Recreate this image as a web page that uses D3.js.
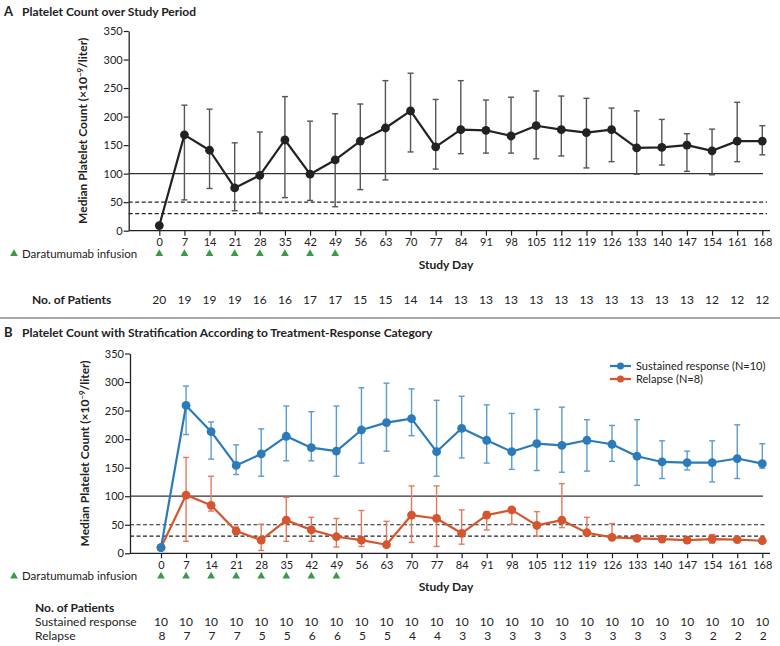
<!DOCTYPE html>
<html><head><meta charset="utf-8">
<script src="https://cdn.jsdelivr.net/npm/d3@7"></script>
<style>
body{margin:0;background:#fff;}
svg text{font-family:"Lato",sans-serif;fill:#222;}
</style></head>
<body><svg id="c" width="780" height="646"></svg>
<script>
const days = [0,7,14,21,28,35,42,49,56,63,70,77,84,91,98,105,112,119,126,133,140,147,154,161,168];
const infusionDays = [0,7,14,21,28,35,42,49];
const yTicks = [0,50,100,150,200,250,300,350];

// Panel A: all patients
const medianAll = [9,168,141,75,97,159,99,124,157,180,210,147,177,176,166,184,177,172,177,145,146,150,140,157,157];
const upperAll  = [null,220,213,154,173,235,192,205,222,263,276,230,263,229,234,245,236,232,215,210,195,170,178,225,184];
const lowerAll  = [null,54,74,35,31,58,53,42,72,89,138,108,135,136,136,126,131,110,121,99,115,104,98,121,133];
const patientsAll = [20,19,19,19,16,16,17,17,15,15,14,14,13,13,13,13,13,13,13,13,13,13,12,12,12];

// Panel B: sustained response
const medianSust = [10,259,213,154,174,205,185,179,216,229,236,178,219,198,178,192,189,198,191,170,160,159,159,166,157];
const upperSust  = [null,293,230,190,218,258,248,258,290,298,288,268,275,260,245,252,256,234,224,234,197,179,197,225,192];
const lowerSust  = [null,208,165,138,135,162,162,135,158,179,206,135,167,158,147,145,142,144,161,119,131,146,125,131,149];
const patientsSust = [10,10,10,10,10,10,10,10,10,10,10,10,10,10,10,10,10,10,10,10,10,10,10,10,10];

// Panel B: relapse
const medianRel = [10,102,84,39,23,58,41,29,23,15,67,61,35,67,76,49,58,36,28,26,25,23,25,24,22];
const upperRel  = [null,168,135,46,51,98,63,61,75,56,118,118,76,73,78,73,122,63,52,null,null,null,33,null,null];
const lowerRel  = [null,21,74,35,5,21,21,11,12,12,19,12,16,41,51,30,45,33,26,null,null,null,18,null,null];
const patientsRel = [8,7,7,7,5,5,6,6,5,5,4,4,3,3,3,3,3,3,3,3,3,3,2,2,2];

const seriesNames = ["Sustained response (N=10)","Relapse (N=8)"];
const BLUE="#2b7bba", BLUE_L="#5b9bd0", RED="#d4552e", RED_L="#e47a5c", GREEN="#3a9a48";

const svg = d3.select("#c");

function panel(cfg){
  const g = svg.append("g");
  const x = d3.scaleLinear().domain([0,168]).range(cfg.xr);
  const y = d3.scaleLinear().domain([0,350]).range(cfg.yr);
  const ya = g.append("g").attr("transform",`translate(${cfg.ax},0)`)
    .call(d3.axisLeft(y).tickValues(yTicks).tickSize(5).tickSizeOuter(0));
  ya.select(".domain").attr("stroke","#222").attr("stroke-width",1.3);
  ya.selectAll(".tick line").attr("stroke","#222").attr("stroke-width",1.2);
  ya.selectAll(".tick text").attr("font-size",11).attr("x",-6).attr("fill","#222");
  const xa = g.append("g").attr("transform",`translate(0,${cfg.yr[0]})`)
    .call(d3.axisBottom(x).tickValues(days).tickSize(5).tickSizeOuter(0));
  xa.select(".domain").remove();
  xa.append("line").attr("x1",cfg.ax).attr("x2",770).attr("y1",0).attr("y2",0).attr("stroke","#222").attr("stroke-width",1.3);
  xa.selectAll(".tick line").attr("stroke","#222").attr("stroke-width",1.2);
  xa.selectAll(".tick text").attr("font-size",11).attr("y",8).attr("fill","#222");
  g.append("line").attr("x1",cfg.ax).attr("x2",763).attr("y1",y(100)).attr("y2",y(100)).attr("stroke","#333").attr("stroke-width",1.2);
  [50,30].forEach(v=>g.append("line").attr("x1",cfg.ax).attr("x2",767).attr("y1",y(v)).attr("y2",y(v))
    .attr("stroke","#222").attr("stroke-width",1.2).attr("stroke-dasharray","4,2.5"));
  const lab = g.append("text").attr("transform",`translate(${cfg.lx},${(cfg.yr[0]+cfg.yr[1])/2}) rotate(-90)`)
    .attr("text-anchor","middle").attr("font-size",12).attr("font-weight","bold");
  lab.append("tspan").text("Median Platelet Count (×10");
  lab.append("tspan").text("−9").attr("font-size",8).attr("dy",-4);
  lab.append("tspan").text("/liter)").attr("dy",4);
  g.append("text").attr("x",446).attr("y",cfg.yr[0]+38).attr("text-anchor","middle").attr("font-size",12).attr("font-weight","bold").text("Study Day");
  const iy = cfg.yr[0]+27;
  const tri = d3.symbol().type(d3.symbolTriangle).size(26);
  g.append("path").attr("d",tri).attr("transform",`translate(14,${iy-4})`).attr("fill",GREEN);
  g.append("text").attr("x",22).attr("y",iy).attr("font-size",11.5).text("Daratumumab infusion");
  g.selectAll(".inf").data(infusionDays).enter().append("path").attr("d",tri)
    .attr("transform",d=>`translate(${x(d)},${iy-4})`).attr("fill",GREEN);
  return {g,x,y};
}

function drawSeries(p, med, up, lo, lineColor, barColor, r){
  const {g,x,y} = p;
  const eb = g.append("g").attr("stroke",barColor).attr("stroke-width",1.4).attr("fill","none");
  days.forEach((d,i)=>{
    if(up[i]==null) return;
    const cx=x(d);
    eb.append("line").attr("x1",cx).attr("x2",cx).attr("y1",y(up[i])).attr("y2",y(lo[i]));
    eb.append("line").attr("x1",cx-3).attr("x2",cx+3).attr("y1",y(up[i])).attr("y2",y(up[i]));
    eb.append("line").attr("x1",cx-3).attr("x2",cx+3).attr("y1",y(lo[i])).attr("y2",y(lo[i]));
  });
  g.append("path").datum(med).attr("fill","none").attr("stroke",lineColor).attr("stroke-width",2.2)
    .attr("stroke-linejoin","round")
    .attr("d",d3.line().x((v,i)=>x(days[i])).y(v=>y(v)));
  g.selectAll(null).data(med).enter().append("circle").attr("cx",(v,i)=>x(days[i])).attr("cy",v=>y(v))
    .attr("r",r).attr("fill",lineColor);
}

function title(yy, letter, txt){
  svg.append("text").attr("x",4).attr("y",yy).attr("font-size",13).attr("font-weight","bold").text(letter);
  svg.append("text").attr("x",22).attr("y",yy).attr("font-size",12).attr("font-weight","bold").text(txt);
}
title(16,"A","Platelet Count over Study Period");
title(337,"B","Platelet Count with Stratification According to Treatment-Response Category");

const pA = panel({xr:[159.3,762.3], yr:[230.7,31], ax:128.7, lx:87});
drawSeries(pA, medianAll, upperAll, lowerAll, "#222", "#555", 4.4);
svg.append("text").attr("x",32).attr("y",304).attr("font-size",12).attr("font-weight","bold").text("No. of Patients");
svg.selectAll(".pa").data(patientsAll).enter().append("text").attr("x",(v,i)=>pA.x(days[i])).attr("y",304)
  .attr("text-anchor","middle").attr("font-size",12).text(v=>v);

svg.append("line").attr("x1",0).attr("x2",780).attr("y1",318).attr("y2",318).attr("stroke","#a8a8a8").attr("stroke-width",2);

const pB = panel({xr:[161,762.3], yr:[553.3,353.5], ax:130, lx:89});
drawSeries(pB, medianRel, upperRel, lowerRel, RED, RED_L, 4.4);
drawSeries(pB, medianSust, upperSust, lowerSust, BLUE, BLUE_L, 4.4);

const lg = svg.append("g");
[[BLUE,366],[RED,379]].forEach((c,i)=>{
  lg.append("line").attr("x1",610).attr("x2",631).attr("y1",c[1]).attr("y2",c[1]).attr("stroke",c[0]).attr("stroke-width",2.2);
  lg.append("circle").attr("cx",620.5).attr("cy",c[1]).attr("r",3.5).attr("fill",c[0]);
  lg.append("text").attr("x",636).attr("y",c[1]+4).attr("font-size",11).text(seriesNames[i]);
});

svg.append("text").attr("x",35).attr("y",612).attr("font-size",12).attr("font-weight","bold").text("No. of Patients");
svg.append("text").attr("x",35).attr("y",626).attr("font-size",12).text("Sustained response");
svg.append("text").attr("x",35).attr("y",640).attr("font-size",12).text("Relapse");
svg.selectAll(".ps").data(patientsSust).enter().append("text").attr("x",(v,i)=>pB.x(days[i])).attr("y",626)
  .attr("text-anchor","middle").attr("font-size",12).text(v=>v);
svg.selectAll(".pr").data(patientsRel).enter().append("text").attr("x",(v,i)=>pB.x(days[i])+1).attr("y",640)
  .attr("text-anchor","middle").attr("font-size",12).text(v=>v);
</script></body></html>
